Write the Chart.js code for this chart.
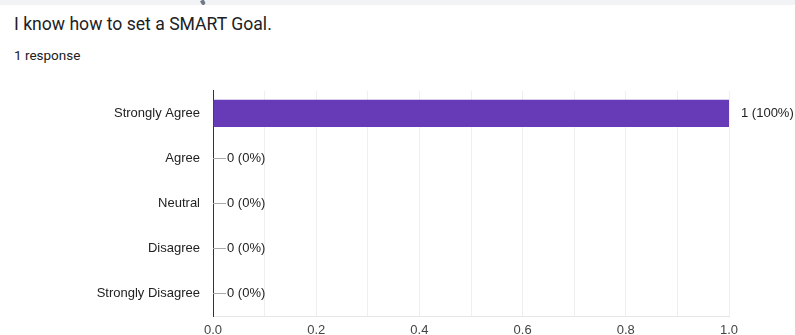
<!DOCTYPE html>
<html>
<head>
<meta charset="utf-8">
<script src="https://cdn.jsdelivr.net/npm/chart.js@4.4.1/dist/chart.umd.min.js"></script>
<style>
  body { margin: 0; width: 795px; height: 335px; background: #fff; overflow: hidden; position: relative; }
  #barra_topo { position: absolute; left: 0; top: 0; width: 795px; height: 5px; background: #f1f3f4; }
  #marca_topo { position: absolute; left: 201px; top: 0; width: 4px; height: 5px; background: #6f7a86; border-radius: 0 0 2px 2px; transform: rotate(-30deg); }
  #titulo { position: absolute; left: 14px; top: 14px; font-family: Roboto, "Noto Sans", sans-serif; font-size: 17.6px; color: #202124; }
  #respostas { position: absolute; left: 14px; top: 47px; font-family: Roboto, "Noto Sans", sans-serif; font-size: 13.5px; color: #202124; }
  #caixa_grafico { position: absolute; left: 0; top: 70px; width: 795px; height: 268px; }
</style>
</head>
<body>
<div id="barra_topo"></div>
<div id="marca_topo"></div>
<div id="titulo">I know how to set a SMART Goal.</div>
<div id="respostas">1 response</div>
<div id="caixa_grafico"><canvas id="grafico_barras"></canvas></div>
<script>
// dados
var categorias = ['Strongly Agree', 'Agree', 'Neutral', 'Disagree', 'Strongly Disagree'];
var respostas = [1, 0, 0, 0, 0];
var porcentagens = ['100%', '0%', '0%', '0%', '0%'];
var ticks_x = [0.0, 0.2, 0.4, 0.6, 0.8, 1.0];

// plugin para escrever os rótulos no fim de cada barra
const rotulosBarras = {
  id: 'rotulosBarras',
  afterDatasetsDraw(chart) {
    const ctx = chart.ctx;
    const meta = chart.getDatasetMeta(0);
    ctx.save();
    ctx.font = '13px "Liberation Sans", Arial, sans-serif';
    ctx.fillStyle = '#222';
    ctx.textBaseline = 'middle';
    meta.data.forEach(function(barra, i) {
      var texto = respostas[i] + ' (' + porcentagens[i] + ')';
      if (respostas[i] == 0) {
        // linha curta cinza até o texto
        ctx.strokeStyle = '#aaa';
        ctx.lineWidth = 1;
        ctx.beginPath();
        ctx.moveTo(barra.x, Math.round(barra.y) + 0.5);
        ctx.lineTo(barra.x + 13, Math.round(barra.y) + 0.5);
        ctx.stroke();
        ctx.fillText(texto, barra.x + 14, barra.y);
      } else {
        ctx.fillText(texto, barra.x + 12, barra.y);
      }
    });
    ctx.restore();
  }
};

const grafico = document.getElementById('grafico_barras');

new Chart(grafico, {
  type: 'bar',
  data: {
    labels: categorias,
    datasets: [{
      data: respostas,
      backgroundColor: '#673ab7',
      borderWidth: 0,
      categoryPercentage: 0.605,
      barPercentage: 1
    }]
  },
  plugins: [rotulosBarras],
  options: {
    indexAxis: 'y',
    responsive: true,
    maintainAspectRatio: false,
    animation: false,
    layout: { padding: { top: 0, right: 66, left: 0, bottom: 0 } },
    plugins: {
      legend: { display: false },
      tooltip: { enabled: false }
    },
    scales: {
      x: {
        min: 0,
        max: 1,
        ticks: {
          stepSize: 0.1,
          color: '#444',
          font: { family: '"Liberation Sans", Arial, sans-serif', size: 13 },
          padding: 7,
          maxRotation: 0,
          callback: function(valor) {
            var v = Math.round(valor * 10) / 10;
            return ticks_x.indexOf(v) >= 0 ? v.toFixed(1) : '';
          }
        },
        grid: { color: '#efefef', drawTicks: false },
        border: { color: '#e6e6e6' },
        afterFit: function(escala) { escala.height = 22; }
      },
      y: {
        ticks: {
          color: '#222',
          font: { family: '"Liberation Sans", Arial, sans-serif', size: 13 },
          padding: 13
        },
        grid: { display: false, drawTicks: false },
        border: { color: '#333', width: 1 },
        afterFit: function(escala) { escala.width = 213; }
      }
    }
  }
});
</script>
</body>
</html>
